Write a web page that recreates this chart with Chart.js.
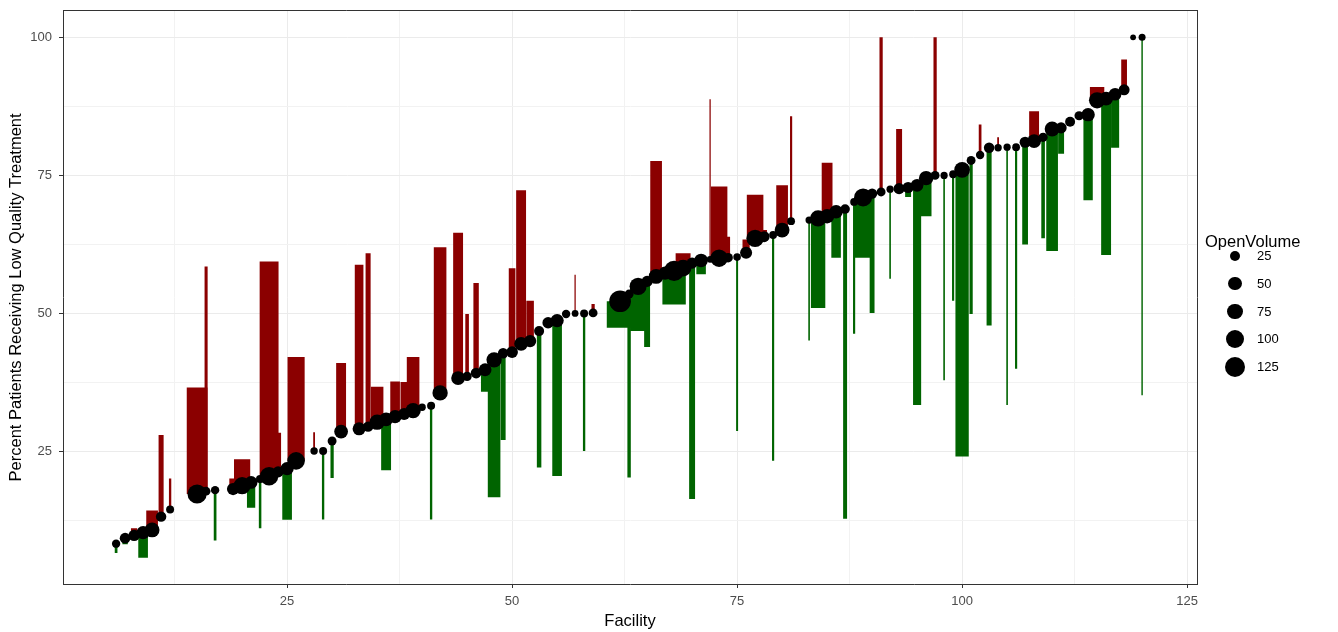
<!DOCTYPE html>
<html>
<head>
<meta charset="utf-8">
<script src="https://cdn.jsdelivr.net/npm/chart.js@4.4.1/dist/chart.umd.min.js"></script>
<style>
html,body{margin:0;padding:0;background:#fff;}
#wrap{position:relative;width:1338px;height:632px;overflow:hidden;}
#c{position:absolute;left:0;top:0;}
.lg{position:absolute;font-family:"Liberation Sans",Arial,sans-serif;color:#000;white-space:nowrap;}
.dot{position:absolute;background:#000;border-radius:50%;}
</style>
</head>
<body>
<div id="wrap">
  <canvas id="c" width="1338" height="632"></canvas>
  <div id="legend"></div>
</div>
<script>
// ---- data ----
const facility = [6,7,8,9,10,11,12,15,16,17,19,20,21,22,23,24,25,26,28,29,30,31,33,34,35,36,37,38,39,40,41,42,44,45,46,47,48,49,50,51,52,53,54,55,56,57,58,59,62,63,64,65,66,67,68,69,70,71,72,73,74,75,76,77,78,79,80,81,83,84,85,86,87,88,89,90,91,92,93,94,95,96,97,98,99,100,101,102,103,104,105,106,107,108,109,110,111,112,113,114,115,116,117,118,119,120];
const pctLowQuality = [8.3,9.3,9.8,10.3,10.8,13.2,14.5,17.3,17.8,18.0,18.2,18.8,19.4,20.0,20.5,21.3,21.9,23.3,25.1,25.1,26.9,28.6,29.1,29.5,30.3,30.8,31.3,31.8,32.4,33.0,33.3,35.6,38.3,38.6,39.2,39.8,41.6,42.8,43.0,44.5,45.0,46.8,48.3,48.7,49.9,50.0,50.0,50.1,52.2,53.5,54.9,55.8,56.7,57.3,57.7,58.2,59.1,59.6,59.8,60.0,60.1,60.2,61.0,63.6,63.9,64.2,65.1,66.7,66.9,67.2,67.6,68.4,68.9,70.2,71.0,71.7,72.0,72.5,72.6,72.8,73.2,74.5,75.0,75.0,75.2,76.0,77.7,78.7,80.0,80.0,80.1,80.1,81.0,81.2,81.9,83.4,83.6,84.7,85.8,86.0,88.6,88.9,89.7,90.5,100,100];
const comparisonPct = [6.6,8.2,11.1,5.8,14.3,28.0,20.1,36.6,58.5,8.9,20.1,23.6,14.8,11.1,59.4,28.4,12.7,42.1,28.5,12.7,20.2,41.0,58.8,60.9,36.7,21.6,37.6,37.6,42.1,33.0,12.7,62.0,64.6,49.9,55.5,35.8,16.7,27.1,58.2,72.3,52.3,22.1,48.3,20.6,49.9,57.0,25.1,51.7,47.4,20.3,46.8,43.9,77.6,57.3,51.6,60.9,16.4,57.1,88.8,73.0,63.9,28.7,63.4,71.5,65.1,23.3,73.2,85.7,45.1,51.0,77.3,60.1,12.8,46.3,60.1,50.1,100,56.3,83.4,71.1,33.4,67.6,100,37.9,52.3,24.1,49.9,84.2,47.8,81.9,33.4,40.0,62.5,86.6,63.6,61.3,78.9,84.7,85.8,70.5,91.0,60.6,80.0,96.0,100,35.2];
const openVolume = [15,30,35,50,65,28,13,115,17,15,42,90,46,14,105,33,50,95,10,13,18,55,48,28,70,55,50,40,70,10,13,70,55,20,30,46,70,28,37,55,42,25,35,50,15,7,13,18,148,19,89,33,65,50,130,83,33,53,7,92,22,11,40,92,32,12,65,12,9,80,60,53,22,12,100,27,18,9,33,33,45,60,18,9,12,74,18,15,28,10,9,12,32,55,20,65,33,25,20,52,80,55,45,32,3,8];
const legendBreaks = [25,50,75,100,125];
const xTickLabels = [25,50,75,100,125];
const yTickLabels = [25,50,75,100];

// ---- styling helpers ----
const FONT = '"Liberation Sans", Arial, sans-serif';
const RED = '#8B0000', GREEN = '#006400';
const radiusFor = v => Math.sqrt(6.25 + 0.75 * v);       // area-proportional size scale
const widthUnitsFor = v => v / 50;                          // bar width in facility units
const sortedX = [...new Set(facility)].sort((a,b)=>a-b);
let minGap = Infinity;
for (let i = 1; i < sortedX.length; i++) minGap = Math.min(minGap, sortedX[i]-sortedX[i-1]);

Chart.defaults.font.family = FONT;

const barSets = facility.map((f, i) => ({
  type: 'bar',
  data: [{x: f, y: [pctLowQuality[i], comparisonPct[i]]}],
  backgroundColor: comparisonPct[i] > pctLowQuality[i] ? RED : GREEN,
  borderWidth: 0,
  grouped: false,
  barPercentage: widthUnitsFor(openVolume[i]) / minGap,
  categoryPercentage: 1,
  order: 2
}));

const pointSet = {
  type: 'scatter',
  data: facility.map((f, i) => ({x: f, y: pctLowQuality[i]})),
  backgroundColor: '#000',
  borderWidth: 0,
  pointRadius: ctx => radiusFor(openVolume[ctx.dataIndex]),
  pointHoverRadius: ctx => radiusFor(openVolume[ctx.dataIndex]),
  order: 0
};

const isMajor = (v, list) => list.includes(v);

new Chart(document.getElementById('c'), {
  type: 'scatter',
  data: {datasets: [...barSets, pointSet]},
  options: {
    responsive: false,
    animation: false,
    events: [],
    layout: {padding: {top: 6, right: 141, bottom: 0, left: 0}},
    plugins: {legend: {display: false}, tooltip: {enabled: false}},
    scales: {
      x: {
        type: 'linear', position: 'bottom', min: 0.1, max: 126.1, offset: false,
        afterFit: s => { s.height = 48; s.paddingLeft = 0; s.paddingRight = 0; },
        ticks: {
          stepSize: 12.5, includeBounds: false, autoSkip: false, maxRotation: 0,
          callback: v => isMajor(v, xTickLabels) ? String(v) : '',
          color: '#4D4D4D', font: {size: 13}, padding: 6
        },
        grid: {
          offset: false,
          color: c => (c.tick && isMajor(c.tick.value, xTickLabels)) ? '#EBEBEB' : '#F2F2F2',
          tickColor: c => (c.tick && isMajor(c.tick.value, xTickLabels)) ? '#333333' : 'rgba(0,0,0,0)',
          tickLength: 4, lineWidth: 1
        },
        border: {display: true, color: '#333333', width: 1},
        title: {display: true, text: 'Facility', color: '#000', font: {size: 16.5}, padding: {top: 0, bottom: 1}}
      },
      y: {
        type: 'linear', position: 'left', min: 1.0, max: 104.8, offset: false,
        afterFit: s => { s.width = 63; s.paddingTop = 0; s.paddingBottom = 0; },
        ticks: {
          stepSize: 12.5, includeBounds: false, autoSkip: false,
          callback: v => isMajor(v, yTickLabels) ? String(v) : '',
          color: '#4D4D4D', font: {size: 13}, padding: 7
        },
        grid: {
          offset: false,
          color: c => (c.tick && isMajor(c.tick.value, yTickLabels)) ? '#EBEBEB' : '#F2F2F2',
          tickColor: c => (c.tick && isMajor(c.tick.value, yTickLabels)) ? '#333333' : 'rgba(0,0,0,0)',
          tickLength: 4, lineWidth: 1
        },
        border: {display: true, color: '#333333', width: 1},
        title: {display: true, text: 'Percent Patients Receiving Low Quality Treatment', color: '#000', font: {size: 16.5}, padding: {top: 7, bottom: 0}}
      },
      xTop: {
        type: 'linear', position: 'top', min: 0.1, max: 126.1, offset: false,
        afterFit: s => { s.height = 0; s.paddingLeft = 0; s.paddingRight = 0; },
        ticks: {display: false}, grid: {display: false, drawTicks: false},
        border: {display: true, color: '#333333', width: 1}
      },
      yRight: {
        type: 'linear', position: 'right', min: 1.0, max: 104.8, offset: false,
        afterFit: s => { s.width = 0; s.paddingTop = 0; s.paddingBottom = 0; },
        ticks: {display: false}, grid: {display: false, drawTicks: false},
        border: {display: true, color: '#333333', width: 1}
      }
    }
  }
});

// ---- size legend (HTML) ----
const lg = document.getElementById('legend');
const title = document.createElement('div');
title.className = 'lg';
title.style.left = '1205px'; title.style.top = '232px'; title.style.fontSize = '16.5px';
title.textContent = 'OpenVolume';
lg.appendChild(title);
legendBreaks.forEach((b, i) => {
  const cy = 256 + i * 27.75;
  const r = radiusFor(b);
  const d = document.createElement('div');
  d.className = 'dot';
  d.style.width = d.style.height = (2*r) + 'px';
  d.style.left = (1235 - r) + 'px';
  d.style.top = (cy - r) + 'px';
  lg.appendChild(d);
  const t = document.createElement('div');
  t.className = 'lg';
  t.style.left = '1257px';
  t.style.top = (cy - 8) + 'px';
  t.style.fontSize = '13px';
  t.style.lineHeight = '16px';
  t.textContent = String(b);
  lg.appendChild(t);
});
</script>
</body>
</html>
